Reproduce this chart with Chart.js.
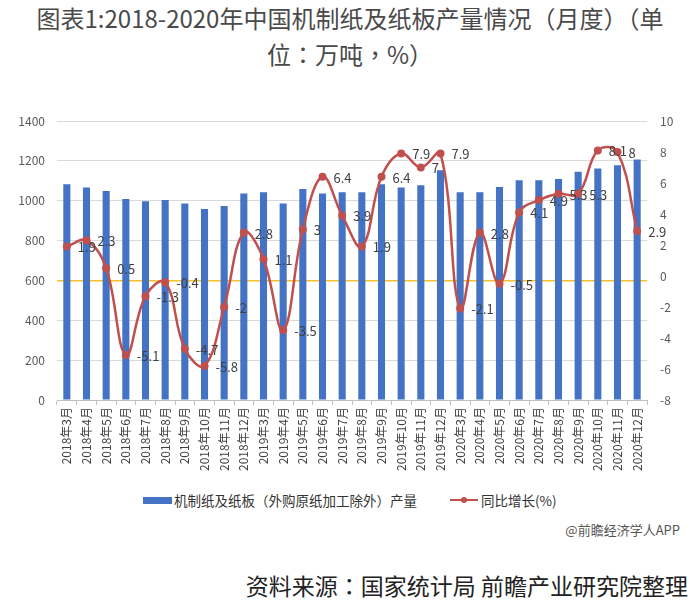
<!DOCTYPE html>
<html>
<head>
<meta charset="utf-8">
<script src="https://cdn.jsdelivr.net/npm/chart.js@4.4.0/dist/chart.umd.min.js"></script>
<style>
body { margin: 0; background: #fff; width: 700px; height: 607px; position: relative; overflow: hidden;
       font-family: "Noto Sans CJK SC", "Noto Sans", sans-serif; }
#title { position: absolute; left: 0; top: 0; width: 700px; text-align: center; font-size: 24px; line-height: 36px; color: #4a4a4a;
         font-family: "Noto Sans CJK TC", "Noto Sans CJK SC", sans-serif; }
#wrap { position: absolute; left: 0; top: 100px; width: 700px; height: 380px; }
.lg { position: absolute; font-size: 13.5px; line-height: 20px; top: 490px; color: #333; white-space: nowrap; }
#app { position: absolute; right: 20px; top: 520px; font-size: 13px; line-height: 20px; color: #555; }
#src { position: absolute; right: 12px; top: 569px; font-size: 23px; line-height: 32px; color: #222; white-space: nowrap;
       font-family: "Noto Sans CJK TC", "Noto Sans CJK SC", sans-serif; }
</style>
</head>
<body>
<div id="title">图表1:2018-2020年中国机制纸及纸板产量情况（月度）（单<br>位：万吨，%）</div>
<div id="wrap"><canvas id="grafico" width="700" height="380"></canvas></div>

<div style="position:absolute;left:143px;top:497px;width:29px;height:7px;background:#4472C4"></div>
<div class="lg" style="left:174px">机制纸及纸板（外购原纸加工除外）产量</div>
<div style="position:absolute;left:450px;top:499px;width:28px;height:2px;background:#C0504D"></div>
<div style="position:absolute;left:461px;top:497px;width:6px;height:6px;border-radius:3px;background:#C0504D"></div>
<div class="lg" style="left:481px">同比增长(%)</div>

<div id="app">@前瞻经济学人APP</div>
<div id="src">资料来源：国家统计局 前瞻产业研究院整理</div>

<script>
const meses = [
    '2018年3月', '2018年4月', '2018年5月', '2018年6月', '2018年7月', '2018年8月', '2018年9月', '2018年10月', '2018年11月', '2018年12月',
    '2019年3月', '2019年4月', '2019年5月', '2019年6月', '2019年7月', '2019年8月', '2019年9月', '2019年10月', '2019年11月', '2019年12月',
    '2020年3月', '2020年4月', '2020年5月', '2020年6月', '2020年7月', '2020年8月', '2020年9月', '2020年10月', '2020年11月', '2020年12月'
];
// 产量（万吨）
const producao = [
    1083, 1066, 1049, 1009, 997, 1003, 986, 959, 974, 1036,
    1043, 986, 1059, 1036, 1043, 1043, 1083, 1066, 1077, 1153,
    1043, 1043, 1069, 1103, 1103, 1109, 1145, 1162, 1178, 1207
];
// 同比增长（%）
const crescimento = [
    1.9, 2.3, 0.5, -5.1, -1.3, -0.4, -4.7, -5.8, -2, 2.8,
    1.1, -3.5, 3, 6.4, 3.9, 1.9, 6.4, 7.9, 7, 7.9,
    -2.1, 2.8, -0.5, 4.1, 4.9, 5.3, 5.3, 8.1, 8, 2.9
];
const ticksEsq = [0, 200, 400, 600, 800, 1000, 1200, 1400];
const ticksDir = [-8, -6, -4, -2, 0, 2, 4, 6, 8, 10];

// rótulos à direita de cada ponto da linha
const rotulos = {
    id: 'rotulos',
    afterDatasetsDraw(chart) {
        const meta = chart.getDatasetMeta(1);
        const c = chart.ctx;
        c.save();
        c.font = '13px "Noto Sans CJK SC"';
        c.fillStyle = '#404040';
        c.textAlign = 'left';
        c.textBaseline = 'middle';
        meta.data.forEach((p, i) => {
            c.fillText(String(crescimento[i]), p.x + 11, p.y + 1);
        });
        c.restore();
    }
};

const ctx = document.getElementById('grafico').getContext('2d');
const grafico = new Chart(ctx, {
    data: {
        labels: meses,
        datasets: [{
            type: 'bar',
            label: '机制纸及纸板（外购原纸加工除外）产量',
            data: producao,
            backgroundColor: '#4472C4',
            barPercentage: 0.36,
            categoryPercentage: 1,
            yAxisID: 'y',
            order: 1
        }, {
            type: 'line',
            label: '同比增长(%)',
            data: crescimento,
            borderColor: '#C0504D',
            backgroundColor: '#C0504D',
            borderWidth: 2.5,
            pointRadius: 4,
            pointBorderWidth: 0,
            pointBackgroundColor: '#C0504D',
            tension: 0.4,
            yAxisID: 'y1',
            order: 0
        }]
    },
    options: {
        responsive: false,
        animation: false,
        devicePixelRatio: 1,
        layout: { padding: { top: 21, left: 0, right: 0, bottom: 0 } },
        plugins: { legend: { display: false }, tooltip: { enabled: false } },
        scales: {
            x: {
                offset: true,
                grid: { offset: true, drawOnChartArea: false, drawTicks: true, tickLength: 5, color: '#BFBFBF' },
                border: { color: '#BFBFBF' },
                ticks: { minRotation: 90, maxRotation: 90, autoSkip: false, padding: 2,
                         font: { size: 12, family: '"Noto Sans CJK SC"' }, color: '#404040' },
                afterFit: s => { s.height = 80; }
            },
            y: {
                position: 'left',
                min: ticksEsq[0],
                max: ticksEsq[ticksEsq.length - 1],
                ticks: { stepSize: 200, padding: 12, callback: v => String(v),
                         font: { size: 12, family: '"Noto Sans CJK SC"' }, color: '#595959' },
                grid: {
                    drawTicks: false,
                    color: c => c.tick && c.tick.value === 600 ? '#F5C02C' : '#D9D9D9',
                    lineWidth: c => c.tick && c.tick.value === 600 ? 1.5 : 1
                },
                border: { display: false },
                afterFit: s => { s.width = 57; }
            },
            y1: {
                position: 'right',
                min: ticksDir[0],
                max: ticksDir[ticksDir.length - 1],
                ticks: { stepSize: 2, padding: 13, font: { size: 12, family: '"Noto Sans CJK SC"' }, color: '#595959' },
                grid: { drawOnChartArea: false, drawTicks: false },
                border: { display: false },
                afterFit: s => { s.width = 53; }
            }
        }
    },
    plugins: [rotulos]
});
</script>
</body>
</html>
